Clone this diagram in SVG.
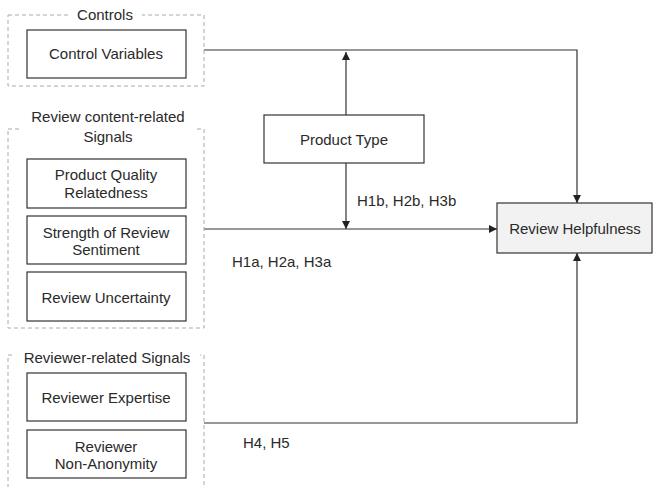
<svg xmlns="http://www.w3.org/2000/svg" width="654" height="487" viewBox="0 0 654 487">
<style>
  text { font-family: "Liberation Sans", Arial, sans-serif; font-size: 15px; fill: #2a2a2a; }
  .c { text-anchor: middle; }
  .grp { fill: none; stroke: #aaa; stroke-width: 1; stroke-dasharray: 4 3; }
  .box { fill: #fff; stroke: #333; stroke-width: 1.2; }
  .lbl { fill: #fff; stroke: none; }
  .ln { fill: none; stroke: #333; stroke-width: 1.2; }
</style>
<defs>
  <marker id="ah" viewBox="0 0 10 10" refX="10" refY="5" markerWidth="8" markerHeight="8" orient="auto" markerUnits="userSpaceOnUse">
    <path d="M0,0 L10,5 L0,10 Z" fill="#222"/>
  </marker>
</defs>
<rect width="654" height="487" fill="#fff"/>

<g id="connectors">
  <path class="ln" d="M204,50 H577 V203" marker-end="url(#ah)"/>
  <path class="ln" d="M204,229 H497" marker-end="url(#ah)"/>
  <path class="ln" d="M204,423 H577 V253" marker-end="url(#ah)"/>
  <path class="ln" d="M346,115 V52" marker-end="url(#ah)"/>
  <path class="ln" d="M346,163 V229" marker-end="url(#ah)"/>
  <text x="357" y="206">H1b, H2b, H3b</text>
  <text x="232" y="267">H1a, H2a,  H3a</text>
  <text x="243" y="448">H4, H5</text>
</g>

<g id="controls">
  <rect class="grp" x="8" y="15" width="196" height="71"/>
  <rect class="lbl" x="70" y="6" width="72" height="18"/>
  <text class="c" x="105" y="20">Controls</text>
  <g id="control-variables">
    <rect class="box" x="27" y="30" width="159" height="48"/>
    <text class="c" x="106" y="59">Control Variables</text>
  </g>
</g>

<g id="content-signals">
  <rect class="grp" x="8" y="129" width="196" height="199"/>
  <rect class="lbl" x="22" y="126" width="172" height="20"/>
  <text class="c" x="108" y="122">Review content-related</text>
  <text class="c" x="108" y="142">Signals</text>
  <g id="product-quality">
    <rect class="box" x="27" y="159" width="159" height="49"/>
    <text class="c" x="106" y="180">Product Quality</text>
    <text class="c" x="106" y="198">Relatedness</text>
  </g>
  <g id="sentiment">
    <rect class="box" x="27" y="216" width="159" height="48"/>
    <text class="c" x="106" y="238">Strength of Review</text>
    <text class="c" x="106" y="255">Sentiment</text>
  </g>
  <g id="uncertainty">
    <rect class="box" x="27" y="272" width="159" height="49"/>
    <text class="c" x="106" y="303">Review Uncertainty</text>
  </g>
</g>

<g id="reviewer-signals">
  <rect class="grp" x="8" y="355" width="196" height="140"/>
  <rect class="lbl" x="14" y="348" width="186" height="18"/>
  <text class="c" x="107" y="363">Reviewer-related  Signals</text>
  <g id="expertise">
    <rect class="box" x="27" y="373" width="159" height="48"/>
    <text class="c" x="106" y="403">Reviewer Expertise</text>
  </g>
  <g id="non-anonymity">
    <rect class="box" x="27" y="430" width="159" height="48"/>
    <text class="c" x="106" y="452">Reviewer</text>
    <text class="c" x="106" y="469">Non-Anonymity</text>
  </g>
</g>

<g id="product-type">
  <rect class="box" x="264" y="115" width="160" height="48"/>
  <text class="c" x="344" y="145">Product Type</text>
</g>

<g id="review-helpfulness">
  <rect class="box" x="497" y="203" width="155" height="50" style="fill:#f2f2f2"/>
  <text class="c" x="575" y="234">Review Helpfulness</text>
</g>
</svg>
